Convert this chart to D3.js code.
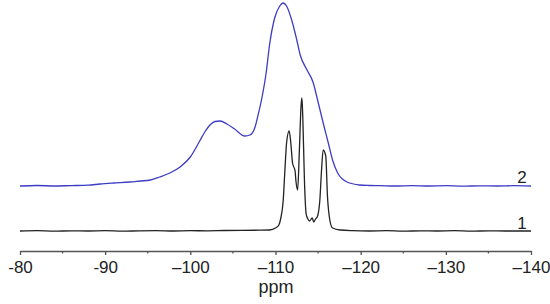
<!DOCTYPE html>
<html lang="en">
<head>
<meta charset="UTF-8">
<title>NMR spectra</title>
<script src="https://d3js.org/d3.v7.min.js"></script>
<style>
  body { margin: 0; padding: 0; background: #fff; }
  svg { display: block; font-family: "Liberation Sans", Arial, sans-serif; }
</style>
</head>
<body>
<div id="chart"></div>
<script>
// spectrum 2 (blue), ppm and height above its own baseline
const ppm2 = [-80, -82, -84, -86, -88, -89.4, -91, -92.9, -94.1, -95.3, -96.4, -97.6, -98.8, -100, -101.1, -101.7, -102.3, -102.9, -103.5, -104.3, -105.2, -106.4, -107.0, -107.6, -107.9, -108.4, -108.9, -109.3, -109.9, -110.5, -110.9, -111.3, -111.9, -112.5, -112.9, -113.7, -114.4, -115.0, -115.6, -116.2, -116.7, -117.3, -118.4, -119.9, -121, -122.3, -124, -126, -128, -130, -132, -134, -136, -138, -140];
const int2 = [0, 0.5, 0, 0.4, 0.8, 2, 3, 4, 5, 6, 9, 13, 19, 29, 45, 54, 61, 64.5, 65, 62, 57, 50, 51, 59, 69, 88, 113, 141, 168, 180, 183, 180, 166, 146, 131, 116, 104, 84, 63, 43, 26, 13, 4, 1, 0.5, 0.3, 0, 0.4, 0, 0.3, -0.2, 0.2, 0, 0.3, 0];

// spectrum 1 (black)
const ppm1 = [-80, -82, -84, -86, -88, -90, -92, -94, -96, -98, -100, -102, -104, -106, -108, -109.3, -110.0, -110.4, -110.6, -110.9, -111.1, -111.3, -111.6, -111.8, -112.0, -112.3, -112.4, -112.6, -112.8, -113.0, -113.1, -113.2, -113.4, -113.6, -113.8, -114.0, -114.3, -114.5, -114.7, -114.9, -115.2, -115.4, -115.6, -115.9, -116.1, -116.4, -116.7, -117.6, -119, -121, -123, -125, -127, -129, -131, -133, -135, -137, -140];
const int1 = [0, 0.3, -0.2, 0.2, 0, 0.3, -0.2, 0.2, 0.4, 0, 0.3, 0.2, 0.5, 0.6, 0.8, 1, 3, 6, 12, 30, 60, 88, 100, 88, 68, 60, 50, 41, 80, 125, 133, 115, 50, 17, 12, 10, 13, 9, 12, 14, 30, 60, 81, 75, 35, 10, 3, 1, 0.3, 0, 0.3, -0.2, 0.2, 0, 0.3, -0.2, 0.2, 0, 0];

const offset1 = 0, offset2 = 45;

const majorTicks = [-80, -90, -100, -110, -120, -130, -140];
const tickLabels = ["-80", "-90", "\u2013100", "\u2013110", "\u2013120", "\u2013130", "\u2013140"];
const minorTicks = [-85, -95, -105, -115, -125, -135];

const width = 550, height = 304;

const svg = d3.select("#chart").append("svg")
    .attr("width", width)
    .attr("height", height);

const x = d3.scaleLinear().domain([-80, -140]).range([20, 531]);
const y = d3.scaleLinear().domain([0, 230]).range([231, 1]);

const axisY = 251;

// x axis, major ticks with labels
const axis = svg.append("g")
    .attr("transform", `translate(0,${axisY})`)
    .call(d3.axisBottom(x)
        .tickValues(majorTicks)
        .tickSize(4)
        .tickSizeOuter(0)
        .tickPadding(6)
        .tickFormat((d, i) => tickLabels[i]));
axis.select(".domain").attr("stroke", "#555").attr("stroke-width", 1.3);
axis.selectAll(".tick line").attr("stroke", "#555").attr("stroke-width", 1.3);
axis.selectAll(".tick text").attr("font-size", 17).attr("fill", "#222")
    .attr("font-family", "'Liberation Sans', Arial, sans-serif");

// minor ticks
svg.append("g")
    .attr("transform", `translate(0,${axisY})`)
    .selectAll("line")
    .data(minorTicks)
    .join("line")
    .attr("x1", d => x(d)).attr("x2", d => x(d))
    .attr("y1", 0).attr("y2", 2.5)
    .attr("stroke", "#555").attr("stroke-width", 1.3);

svg.append("text")
    .attr("x", 276)
    .attr("y", 293)
    .attr("text-anchor", "middle")
    .attr("font-size", 18)
    .attr("fill", "#222")
    .text("ppm");

const line = offset => d3.line()
    .x(d => x(d[0]))
    .y(d => y(d[1] + offset))
    .curve(d3.curveMonotoneX);

svg.append("path")
    .datum(d3.zip(ppm2, int2))
    .attr("fill", "none")
    .attr("stroke", "#3c3cc4")
    .attr("stroke-width", 1.3)
    .attr("d", line(offset2));

svg.append("path")
    .datum(d3.zip(ppm1, int1))
    .attr("fill", "none")
    .attr("stroke", "#222")
    .attr("stroke-width", 1.3)
    .attr("d", line(offset1));

// spectrum numbers
svg.append("text")
    .attr("x", 522).attr("y", 183)
    .attr("text-anchor", "middle")
    .attr("font-size", 17).attr("fill", "#222")
    .text("2");
svg.append("text")
    .attr("x", 522).attr("y", 229)
    .attr("text-anchor", "middle")
    .attr("font-size", 17).attr("fill", "#222")
    .text("1");
</script>
</body>
</html>
